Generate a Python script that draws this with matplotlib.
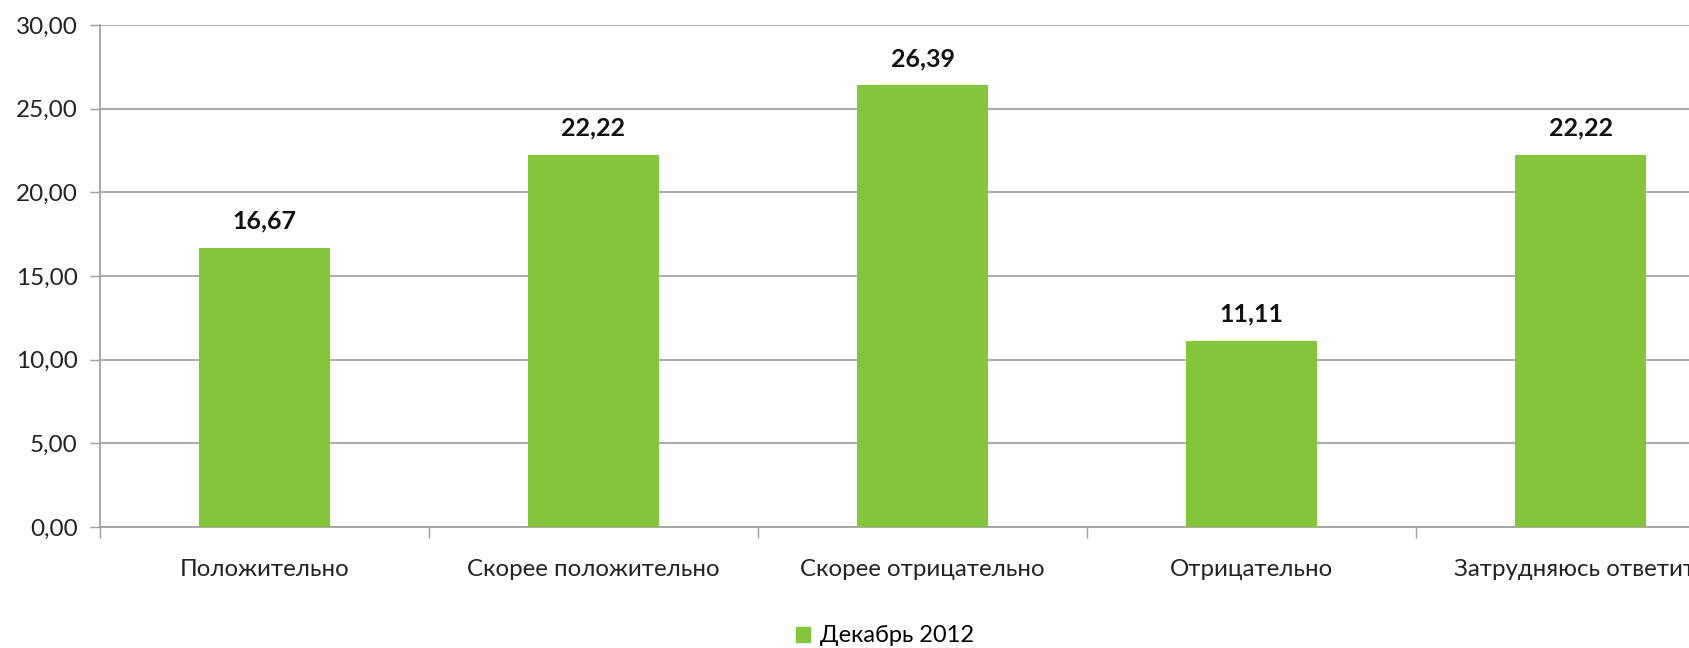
import matplotlib
matplotlib.use("Agg")
import matplotlib.pyplot as plt
from matplotlib.patches import Patch

categories = ["Положительно", "Скорее положительно", "Скорее отрицательно",
              "Отрицательно", "Затрудняюсь ответить"]
values = [16.67, 22.22, 26.39, 11.11, 22.22]
series_name = "Декабрь 2012"
yticks = [0, 5, 10, 15, 20, 25, 30]

plt.rcParams['font.family'] = ['Lato', 'DejaVu Sans']

green = "#84C639"
grid_c = "#9C9C9C"

fig = plt.figure(figsize=(16.9, 6.48), dpi=100)
ax = fig.add_axes([100/1690, 1-527/648, 1645/1690, (527-25)/648])

x = list(range(len(categories)))
ax.bar(x, values, width=0.4, color=green, zorder=3)
ax.set_xlim(-0.5, len(categories)-0.5)
ax.set_ylim(0, 30)

ax.set_yticks(yticks)
ax.set_yticklabels([f"{v:.2f}".replace(".", ",") for v in yticks], fontsize=17.5, color="#222222")
ax.yaxis.grid(True, color=grid_c, linewidth=1.2, zorder=0)
ax.tick_params(axis='y', length=7, width=1, color=grid_c, pad=9)

ax.set_xticks(x)
ax.set_xticklabels(categories, fontsize=17.3, color="#222222")
ax.tick_params(axis='x', which='major', length=0, pad=23)
ax.set_xticks([i - 0.5 for i in range(len(categories)+1)], minor=True)
ax.tick_params(axis='x', which='minor', length=8, width=1, color=grid_c)

for s in ['top', 'right']:
    ax.spines[s].set_visible(False)
for s in ['left', 'bottom']:
    ax.spines[s].set_color(grid_c)
    ax.spines[s].set_linewidth(1.2)

for xi, v in zip(x, values):
    ax.annotate(f"{v:.2f}".replace(".", ","), (xi, v), xytext=(0, 11),
                textcoords="offset points", ha="center", va="bottom",
                fontsize=18, fontweight="bold", color="#111111")

fig.legend(handles=[Patch(color=green, label=series_name)], loc="center",
           bbox_to_anchor=(885/1690, 1-636/648), frameon=False, fontsize=17,
           handlelength=0.6, handleheight=0.6, handletextpad=0.4)

fig.savefig("out.png", dpi=100)
